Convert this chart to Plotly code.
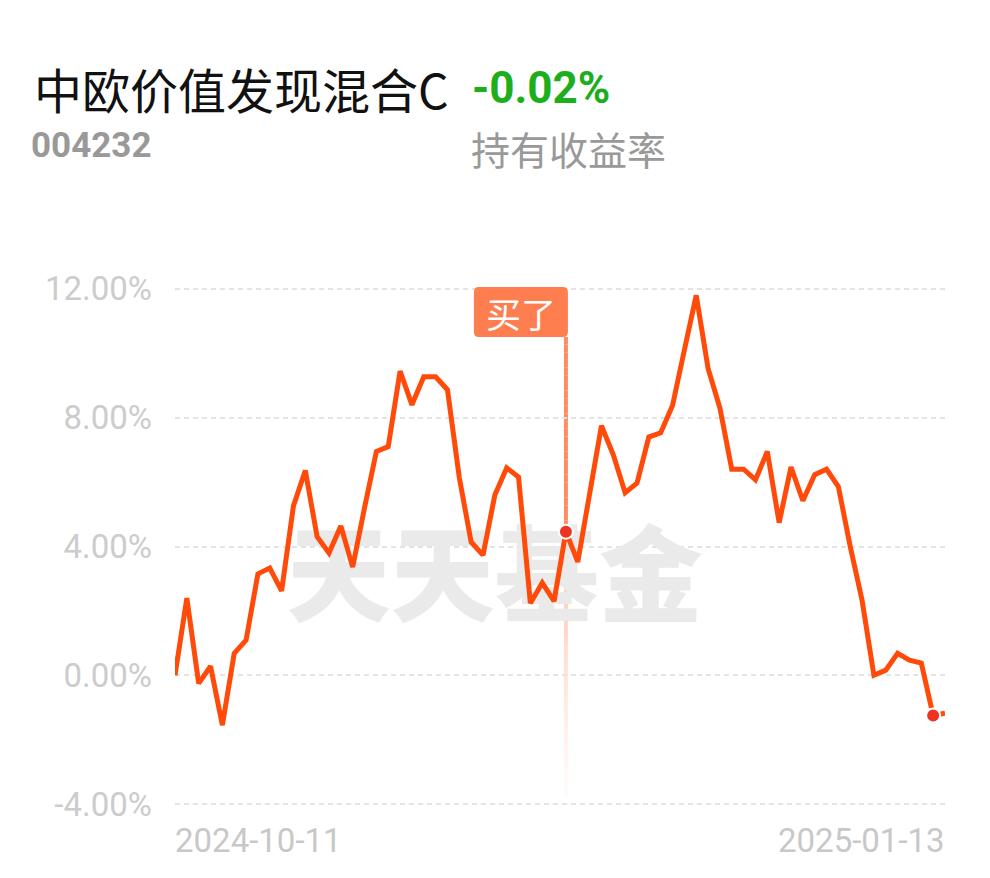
import numpy as np
import pandas as pd
import plotly.graph_objects as go

# ---------------- data ----------------
fund_name = "中欧价值发现混合C"
fund_code = "004232"
hold_return = "-0.02%"
hold_label = "持有收益率"
watermark = "天天基金"
buy_label = "买了"

# trading days 2024-10-11 .. 2025-01-13 (Jan 1 holiday)
dates = [d.strftime("%Y-%m-%d") for d in pd.bdate_range("2024-10-11", "2025-01-13")
         if d.strftime("%Y-%m-%d") != "2025-01-01"]

returns = [0.00, 2.40, -0.25, 0.28, -1.55, 0.68, 1.09, 3.15, 3.33, 2.62,
           5.26, 6.36, 4.30, 3.80, 4.64, 3.36, 5.20, 6.95, 7.10, 9.45,
           8.40, 9.27, 9.27, 8.87, 6.14, 4.14, 3.73, 5.60, 6.44, 6.16,
           2.24, 2.87, 2.30, 4.46, 3.52, 5.60, 7.75, 6.85, 5.67, 5.97,
           7.40, 7.53, 8.38, 10.10, 11.80, 9.53, 8.30, 6.40, 6.40, 6.07,
           6.95, 4.74, 6.47, 5.42, 6.23, 6.40, 5.86, 4.00, 2.33, 0.00,
           0.16, 0.68, 0.47, 0.38, -1.25, -1.18]

buy_index = 33
marker_indices = [33, 64]
watermark_index = 27

y_ticks = [-4, 0, 4, 8, 12]
y_tick_labels = ["-4.00%", "0.00%", "4.00%", "8.00%", "12.00%"]

# ---------------- layout geometry ----------------
W, H = 990, 878
Y_MIN, Y_MAX = -4.06, 12.06
L, R, T, B = 175, 45, 287, 72
PW, PH = W - L - R, H - T - B
PX_PER_UNIT = PH / (Y_MAX - Y_MIN)
Y0_PIX = T + (Y_MAX - 0) * PX_PER_UNIT


def px(xp):
    return (xp - L) / PW


def py(yp):
    return (H - B - yp) / PH


def ypix_to_val(yp):
    return (Y0_PIX - yp) / PX_PER_UNIT


LINE_COLOR = "#FF4A0A"
CORAL = "255,127,80"
TAG_COLOR = "#FF7E50"

fig = go.Figure()

# watermark drawn first so that it sits under the line
fig.add_trace(go.Scatter(
    x=[dates[watermark_index]], y=[ypix_to_val(588)], mode="text", text=[watermark],
    textposition="middle center",
    textfont=dict(family="Noto Sans CJK SC", size=104, color="#EAEAEA", weight=900),
    hoverinfo="skip", cliponaxis=False, showlegend=False))

fig.add_trace(go.Scatter(
    x=dates, y=returns, mode="lines",
    line=dict(color=LINE_COLOR, width=5, shape="linear"),
    hoverinfo="skip", cliponaxis=False, showlegend=False))

fig.add_trace(go.Scatter(
    x=[dates[i] for i in marker_indices], y=[returns[i] for i in marker_indices],
    mode="markers",
    marker=dict(color="#EE3322", size=14, line=dict(color="white", width=2)),
    hoverinfo="skip", cliponaxis=False, showlegend=False))

# gradient vertical line at the buy point
shapes = []
y_top, y_bot = ypix_to_val(337), ypix_to_val(796)
n = 60
edges = np.linspace(y_top, y_bot, n + 1)
yb = returns[buy_index]
for k in range(n):
    a, b = edges[k], edges[k + 1]
    mid = (a + b) / 2
    if mid >= yb:
        op = 0.9
    else:
        frac = (yb - mid) / (yb - y_bot)
        op = 0.5 * (1 - frac) ** 1.3 + 0.03
    shapes.append(dict(type="line", xref="x", yref="y",
                       x0=dates[buy_index], x1=dates[buy_index], y0=a, y1=b,
                       line=dict(color=f"rgba({CORAL},{op:.3f})", width=4),
                       layer="below"))

# rounded tag box anchored at the buy point, pixel-sized
shapes.append(dict(type="path", xref="x", yref="y",
                   xsizemode="pixel", ysizemode="pixel",
                   xanchor=dates[buy_index], yanchor=ypix_to_val(287),
                   path="M -87,0 L -3,0 Q 2,0 2,-5 L 2,-45 Q 2,-50 -3,-50 "
                        "L -87,-50 Q -92,-50 -92,-45 L -92,-5 Q -92,0 -87,0 Z",
                   fillcolor=TAG_COLOR, line=dict(width=0), layer="above"))

annotations = []
# title
annotations.append(dict(text=fund_name, xref="paper", yref="paper",
                        x=px(32), y=py(88), xanchor="left", yanchor="middle",
                        showarrow=False,
                        font=dict(family="Noto Sans CJK SC", size=48, color="#111111")))
annotations.append(dict(text=f"<b>{hold_return}</b>", xref="paper", yref="paper",
                        x=px(470), y=py(88), xanchor="left", yanchor="middle",
                        showarrow=False,
                        font=dict(family="Roboto", size=44, color="#1CAE1C")))
annotations.append(dict(text=f"<b>{fund_code}</b>", xref="paper", yref="paper",
                        x=px(29), y=py(146), xanchor="left", yanchor="middle",
                        showarrow=False,
                        font=dict(family="Roboto", size=35, color="#999999")))
annotations.append(dict(text=hold_label, xref="paper", yref="paper",
                        x=px(469), y=py(148), xanchor="left", yanchor="middle",
                        showarrow=False,
                        font=dict(family="Noto Sans CJK SC", size=39, color="#999999")))
# buy tag text
annotations.append(dict(text=buy_label, xref="x", yref="y",
                        x=dates[buy_index], y=ypix_to_val(312), xanchor="center",
                        yanchor="middle", xshift=-45, showarrow=False,
                        font=dict(family="Noto Sans CJK SC", size=35, color="white")))
# date labels
annotations.append(dict(text=dates[0], xref="x", yref="paper",
                        x=dates[0], y=py(840), xanchor="left", yanchor="middle",
                        xshift=-2, showarrow=False,
                        font=dict(family="Roboto", size=33, color="#C8C8C8")))
annotations.append(dict(text=dates[-1], xref="x", yref="paper",
                        x=dates[-1], y=py(840), xanchor="right", yanchor="middle",
                        xshift=2, showarrow=False,
                        font=dict(family="Roboto", size=33, color="#C8C8C8")))

fig.update_layout(
    width=W, height=H,
    margin=dict(l=L, r=R, t=T, b=B, pad=0),
    paper_bgcolor="white", plot_bgcolor="white",
    shapes=shapes, annotations=annotations,
    showlegend=False,
    xaxis=dict(type="category", categoryorder="array", categoryarray=dates,
               range=[0, len(dates) - 1], showgrid=False,
               showticklabels=False, zeroline=False, showline=False, ticks=""),
    yaxis=dict(range=[Y_MIN, Y_MAX], tickvals=y_ticks, ticktext=y_tick_labels,
               showgrid=True, gridcolor="#E3E3E3", gridwidth=2, griddash="5px,4px",
               zeroline=False, showline=False, ticks="", ticklabelstandoff=22,
               tickfont=dict(family="Roboto", size=33, color="#CCCCCC")),
)

fig.write_html("out.html", config={"displayModeBar": False},
               post_script="document.body.style.margin='0';")
